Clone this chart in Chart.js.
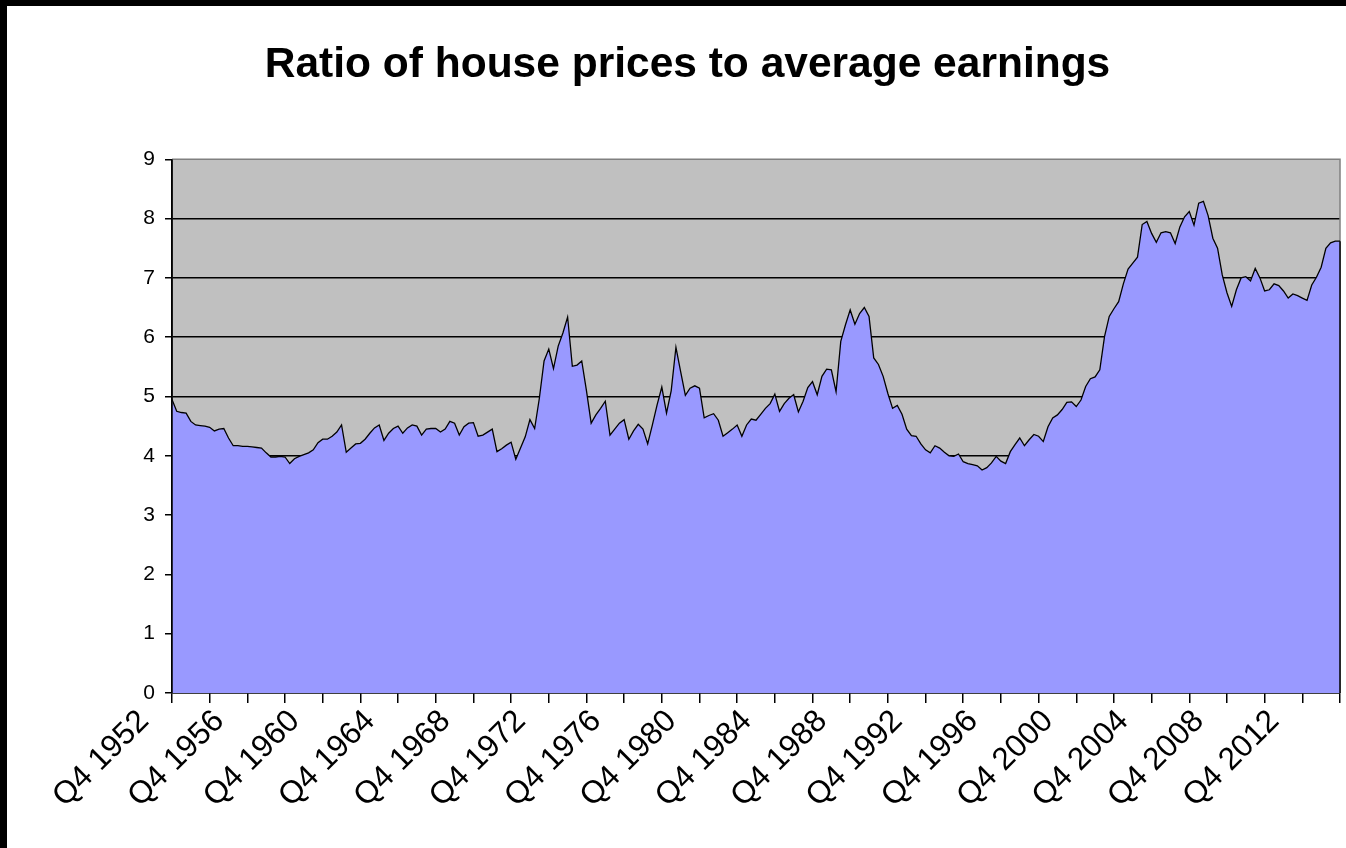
<!DOCTYPE html>
<html>
<head>
<meta charset="utf-8">
<title>Ratio of house prices to average earnings</title>
<script src="https://cdn.jsdelivr.net/npm/chart.js@4.4.1/dist/chart.umd.min.js"></script>
<style>
  html, body { margin: 0; padding: 0; background: #000; overflow: hidden; }
  #frame { position: absolute; left: 7px; top: 6px; width: 1339px; height: 842px; background: #fff; }
</style>
</head>
<body>
<div id="frame"><canvas id="ratioChart" width="1339" height="842"></canvas></div>
<script>
// Quarterly series, first point is Q4 1952, last is Q4 2014
const firstYear = 1952;
const pointCount = 249;

// Labels shown on the category axis (every 16 quarters)
const tickLabels = [
    'Q4 1952', 'Q4 1956', 'Q4 1960', 'Q4 1964', 'Q4 1968', 'Q4 1972', 'Q4 1976', 'Q4 1980',
    'Q4 1984', 'Q4 1988', 'Q4 1992', 'Q4 1996', 'Q4 2000', 'Q4 2004', 'Q4 2008', 'Q4 2012'
];

// House price / earnings ratio
const ratioValues = [
    4.95, 4.75, 4.73, 4.72, 4.58, 4.52, 4.51, 4.50, 4.48, 4.42,
    4.45, 4.46, 4.30, 4.17, 4.17, 4.16, 4.16, 4.15, 4.14, 4.13,
    4.05, 3.98, 3.98, 3.99, 3.98, 3.87, 3.95, 3.99, 4.02, 4.05,
    4.10, 4.22, 4.28, 4.28, 4.33, 4.40, 4.52, 4.06, 4.13, 4.20,
    4.21, 4.28, 4.38, 4.47, 4.52, 4.26, 4.38, 4.46, 4.50, 4.38,
    4.47, 4.52, 4.50, 4.35, 4.45, 4.46, 4.46, 4.40, 4.45, 4.58,
    4.55, 4.35, 4.49, 4.55, 4.56, 4.33, 4.35, 4.40, 4.45, 4.07,
    4.12, 4.18, 4.23, 3.94, 4.13, 4.32, 4.61, 4.46, 4.97, 5.60,
    5.80, 5.47, 5.85, 6.07, 6.34, 5.51, 5.53, 5.60, 5.10, 4.55,
    4.69, 4.80, 4.92, 4.35, 4.45, 4.55, 4.61, 4.28, 4.42, 4.53,
    4.45, 4.20, 4.52, 4.86, 5.16, 4.72, 5.10, 5.83, 5.42, 5.02,
    5.14, 5.18, 5.14, 4.64, 4.68, 4.71, 4.60, 4.33, 4.39, 4.45,
    4.52, 4.33, 4.52, 4.62, 4.60, 4.70, 4.80, 4.88, 5.04, 4.75,
    4.88, 4.97, 5.03, 4.74, 4.92, 5.15, 5.25, 5.03, 5.34, 5.46,
    5.45, 5.08, 5.93, 6.21, 6.46, 6.22, 6.40, 6.50, 6.35, 5.65,
    5.54, 5.34, 5.05, 4.80, 4.85, 4.70, 4.45, 4.34, 4.33, 4.20,
    4.10, 4.05, 4.17, 4.13, 4.06, 4.00, 3.99, 4.03, 3.90, 3.87,
    3.85, 3.83, 3.76, 3.80, 3.88, 3.99, 3.91, 3.87, 4.07, 4.19,
    4.30, 4.17, 4.27, 4.36, 4.33, 4.24, 4.49, 4.64, 4.69, 4.78,
    4.90, 4.91, 4.83, 4.94, 5.17, 5.30, 5.33, 5.45, 6.01, 6.35,
    6.48, 6.60, 6.90, 7.15, 7.25, 7.35, 7.90, 7.95, 7.75, 7.60,
    7.76, 7.78, 7.76, 7.58, 7.86, 8.03, 8.12, 7.89, 8.26, 8.29,
    8.05, 7.67, 7.50, 7.05, 6.75, 6.52, 6.80, 7.00, 7.02, 6.95,
    7.16, 7.00, 6.78, 6.80, 6.90, 6.87, 6.78, 6.66, 6.73, 6.70,
    6.66, 6.62, 6.88, 7.01, 7.18, 7.50, 7.59, 7.62, 7.62
];

// Build "Qn YYYY" category names
const quarterLabels = [];
for (let i = 0; i < pointCount; i++) {
    const q = (3 + i) % 4 + 1;
    const year = firstYear + Math.floor((3 + i) / 4);
    quarterLabels.push(`Q${q} ${year}`);
}

const FONT = "Arial, 'Liberation Sans', sans-serif";

// Grey plot background + border, and the black edges over the fill
const plotFrame = {
    id: 'plotFrame',
    beforeDraw(chart) {
        const { ctx, chartArea: a } = chart;
        ctx.save();
        ctx.fillStyle = '#c0c0c0';
        ctx.fillRect(a.left, a.top, a.right - a.left, a.bottom - a.top);
        ctx.restore();
    },
    beforeDatasetsDraw(chart) {
        const { ctx, chartArea: a } = chart;
        ctx.save();
        ctx.strokeStyle = '#808080';
        ctx.lineWidth = 1.5;
        ctx.beginPath();
        ctx.moveTo(a.left, a.top);
        ctx.lineTo(a.right, a.top);
        ctx.lineTo(a.right, a.bottom);
        ctx.stroke();
        ctx.restore();
    },
    afterDatasetsDraw(chart) {
        const { ctx, chartArea: a } = chart;
        const pts = chart.getDatasetMeta(0).data;
        const last = pts[pts.length - 1];
        ctx.save();
        ctx.strokeStyle = '#000';
        ctx.lineWidth = 1.5;
        ctx.beginPath();
        ctx.moveTo(a.left, a.top);
        ctx.lineTo(a.left, a.bottom);
        // closing edge of the area on the right
        ctx.moveTo(last.x, last.y);
        ctx.lineTo(last.x, a.bottom);
        ctx.stroke();
        ctx.restore();
    }
};

const ctx = document.getElementById('ratioChart').getContext('2d');
new Chart(ctx, {
    type: 'line',
    data: {
        labels: quarterLabels,
        datasets: [{
            label: 'Ratio',
            data: ratioValues,
            fill: 'origin',
            backgroundColor: '#9999ff',
            borderColor: '#000',
            borderWidth: 1.3,
            pointRadius: 0,
            tension: 0
        }]
    },
    options: {
        responsive: false,
        animation: false,
        layout: { padding: { left: 28, right: 6, top: 0, bottom: 0 } },
        plugins: {
            legend: { display: false },
            tooltip: { enabled: false },
            title: {
                display: true,
                text: 'Ratio of house prices to average earnings',
                color: '#000',
                font: { family: FONT, size: 42.5, weight: 'bold' },
                padding: { top: 34, bottom: 68.3 }
            }
        },
        scales: {
            x: {
                type: 'category',
                offset: false,
                z: 1,
                ticks: {
                    autoSkip: false,
                    minRotation: 45,
                    maxRotation: 45,
                    labelOffset: -28,
                    padding: 2,
                    color: '#000',
                    font: { family: FONT, size: 31.5, lineHeight: 1 },
                    callback: function(value) {
                        const label = this.getLabelForValue(value);
                        return tickLabels.includes(label) ? label : '';
                    }
                },
                grid: {
                    drawOnChartArea: false,
                    tickLength: 10,
                    lineWidth: 1.5,
                    tickColor: c => (c.index % 8 === 0 ? '#000' : 'rgba(0,0,0,0)')
                },
                border: { color: '#000', width: 1.5 },
                afterFit(scale) {
                    scale.height = 155;
                    scale.paddingLeft = 0;
                    scale.paddingRight = 0;
                }
            },
            y: {
                min: 0,
                max: 9,
                ticks: {
                    stepSize: 1,
                    padding: 10,
                    color: '#000',
                    font: { family: FONT, size: 21 }
                },
                grid: {
                    color: c => (c.tick && c.tick.value === 9 ? 'rgba(0,0,0,0)' : '#000'),
                    lineWidth: 1.5,
                    tickColor: '#000',
                    tickLength: 7
                },
                border: { color: '#000', width: 1.5 },
                afterFit(scale) { scale.width = 137; }
            }
        }
    },
    plugins: [plotFrame]
});
</script>
</body>
</html>
